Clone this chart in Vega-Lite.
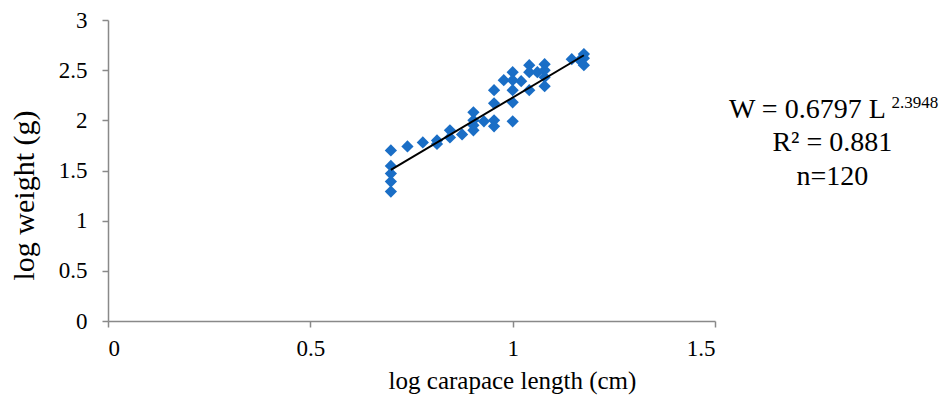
{
  "$schema": "https://vega.github.io/schema/vega-lite/v6.json",
  "width": 607,
  "height": 301,
  "autosize": {"type": "none"},
  "padding": {"left": 108, "top": 20, "right": 237, "bottom": 94},
  "background": "white",
  "view": {"stroke": null},
  "config": {
    "font": "Liberation Serif",
    "text": {"font": "Liberation Serif"},
    "axis": {
      "domainColor": "#898989",
      "tickColor": "#898989",
      "domainWidth": 1.5,
      "tickWidth": 1.5,
      "tickSize": 6,
      "grid": false,
      "labelColor": "black",
      "titleColor": "black",
      "labelFont": "Liberation Serif",
      "titleFont": "Liberation Serif",
      "labelFontSize": 23,
      "titleFontSize": 25,
      "titleFontWeight": "normal"
    }
  },
  "datasets": {
    "fish": [
      {"logL": 0.699, "logW": 1.70},
      {"logL": 0.699, "logW": 1.545},
      {"logL": 0.699, "logW": 1.47},
      {"logL": 0.699, "logW": 1.39},
      {"logL": 0.699, "logW": 1.29},
      {"logL": 0.740, "logW": 1.74},
      {"logL": 0.778, "logW": 1.78},
      {"logL": 0.813, "logW": 1.80},
      {"logL": 0.813, "logW": 1.765},
      {"logL": 0.845, "logW": 1.90},
      {"logL": 0.845, "logW": 1.83},
      {"logL": 0.875, "logW": 1.86},
      {"logL": 0.903, "logW": 2.08},
      {"logL": 0.903, "logW": 2.00},
      {"logL": 0.903, "logW": 1.95},
      {"logL": 0.903, "logW": 1.90},
      {"logL": 0.929, "logW": 1.99},
      {"logL": 0.954, "logW": 2.30},
      {"logL": 0.954, "logW": 2.17},
      {"logL": 0.954, "logW": 2.00},
      {"logL": 0.954, "logW": 1.94},
      {"logL": 0.978, "logW": 2.40},
      {"logL": 1.000, "logW": 2.48},
      {"logL": 1.000, "logW": 2.40},
      {"logL": 1.000, "logW": 2.30},
      {"logL": 1.000, "logW": 2.18},
      {"logL": 1.000, "logW": 1.99},
      {"logL": 1.021, "logW": 2.39},
      {"logL": 1.041, "logW": 2.55},
      {"logL": 1.041, "logW": 2.48},
      {"logL": 1.041, "logW": 2.30},
      {"logL": 1.061, "logW": 2.48},
      {"logL": 1.079, "logW": 2.56},
      {"logL": 1.079, "logW": 2.50},
      {"logL": 1.079, "logW": 2.43},
      {"logL": 1.079, "logW": 2.34},
      {"logL": 1.146, "logW": 2.61},
      {"logL": 1.166, "logW": 2.60},
      {"logL": 1.176, "logW": 2.66},
      {"logL": 1.176, "logW": 2.62},
      {"logL": 1.176, "logW": 2.55}
    ],
    "fit": [
      {"logL": 0.699, "logW": 1.5063},
      {"logL": 1.176, "logW": 2.6486}
    ],
    "note": [
      {"id": 1}
    ]
  },
  "layer": [
    {
      "data": {"name": "fish"},
      "mark": {"type": "point", "shape": "diamond", "filled": true, "size": 150, "color": "#1a6ec6", "opacity": 1},
      "encoding": {
        "x": {
          "field": "logL",
          "type": "quantitative",
          "scale": {"domain": [0, 1.5], "nice": false, "zero": true},
          "axis": {"values": [0, 0.5, 1, 1.5], "format": "~g", "title": "log carapace length (cm)", "labelFont": "Liberation Serif", "titleFont": "Liberation Serif", "labelPadding": 10, "titlePadding": 8, "titleX": 404}
        },
        "y": {
          "field": "logW",
          "type": "quantitative",
          "scale": {"domain": [0, 3], "nice": false},
          "axis": {"values": [0, 0.5, 1, 1.5, 2, 2.5, 3], "format": "~g", "title": "log weight (g)", "labelFont": "Liberation Serif", "titleFont": "Liberation Serif", "labelPadding": 15, "titlePadding": 19, "titleFontSize": 30, "titleY": 175}
        }
      }
    },
    {
      "data": {"name": "fit"},
      "mark": {"type": "line", "color": "black", "strokeWidth": 2},
      "encoding": {
        "x": {"field": "logL", "type": "quantitative"},
        "y": {"field": "logW", "type": "quantitative"}
      }
    },
    {
      "data": {"name": "note"},
      "mark": {"type": "text", "text": "W = 0.6797 L", "font": "Liberation Serif", "align": "right", "baseline": "alphabetic", "fontSize": 28, "clip": false, "color": "black"},
      "encoding": {"x": {"datum": 1.922}, "y": {"datum": 2.024}}
    },
    {
      "data": {"name": "note"},
      "mark": {"type": "text", "text": "2.3948", "font": "Liberation Serif", "align": "left", "baseline": "alphabetic", "fontSize": 17, "clip": false, "color": "black"},
      "encoding": {"x": {"datum": 1.936}, "y": {"datum": 2.124}}
    },
    {
      "data": {"name": "note"},
      "mark": {"type": "text", "text": "R² = 0.881", "font": "Liberation Serif", "align": "center", "baseline": "alphabetic", "fontSize": 28, "clip": false, "color": "black"},
      "encoding": {"x": {"datum": 1.79}, "y": {"datum": 1.695}}
    },
    {
      "data": {"name": "note"},
      "mark": {"type": "text", "text": "n=120", "font": "Liberation Serif", "align": "center", "baseline": "alphabetic", "fontSize": 28, "clip": false, "color": "black"},
      "encoding": {"x": {"datum": 1.79}, "y": {"datum": 1.356}}
    }
  ]
}
